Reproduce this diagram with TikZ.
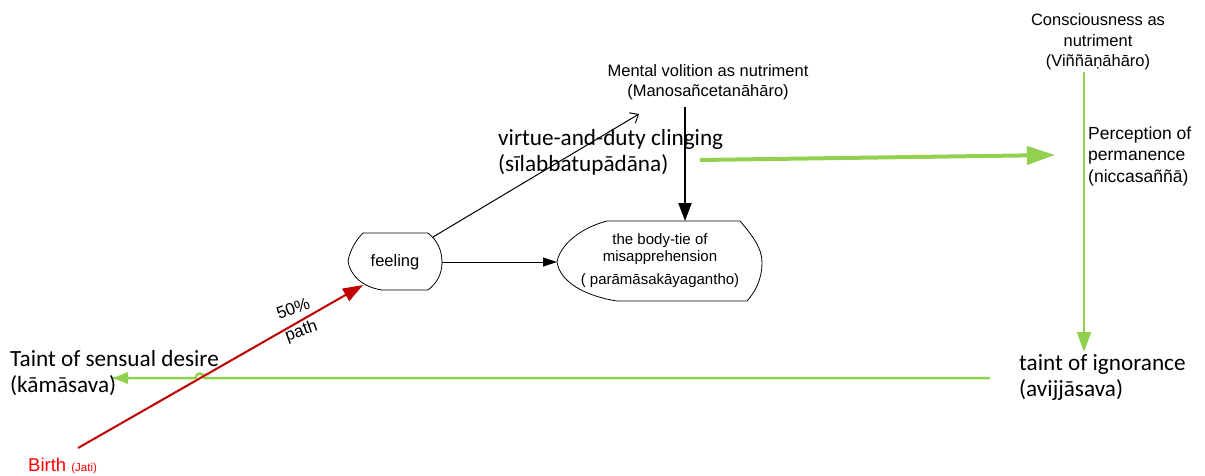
\documentclass[tikz,border=0pt]{standalone}
\usepackage{fontspec}
\setmainfont{Liberation Sans}
\newfontfamily\calfont{Carlito}
\usetikzlibrary{arrows.meta}
\definecolor{lgreen}{HTML}{92D050}
\definecolor{dred}{HTML}{C00000}
\definecolor{bred}{HTML}{FF0000}
\begin{document}
\begin{tikzpicture}[x=1pt,y=-1pt,
  ar/.style={font=\fontsize{16.5}{20}\selectfont, inner sep=0pt},
  arsm/.style={font=\fontsize{15}{17}\selectfont, inner sep=0pt},
  cal/.style={font=\calfont\fontsize{23.2}{26}\selectfont, inner sep=0pt},
  shapeline/.style={line width=0.8pt},
  thinarrow/.style={line width=1pt, -{Triangle[length=14pt,width=9pt]}},
  openarrow/.style={line width=1pt, -{Straight Barb[length=7pt,width=12pt]}},
  thickarrow/.style={line width=2pt, -{Triangle[length=18pt,width=13pt]}},
  greenbig/.style={lgreen, line width=4pt, -{Triangle[length=28pt,width=18pt]}},
  greenv/.style={lgreen, line width=2pt, -{Triangle[length=20pt,width=14pt]}},
  greenh/.style={lgreen, line width=2.5pt},
  redarrow/.style={dred, line width=2pt, -{Triangle[length=20pt,width=14pt]}}]
\useasboundingbox (0,0) rectangle (1205,475);

% shapes
\draw[shapeline] (363,233) -- (428,233) .. controls (437,240) and (442,250) .. (442,262)
  .. controls (442,274) and (437,283) .. (428,290) -- (382,290)
  .. controls (362,287) and (350,275) .. (348,261)
  .. controls (350,250) and (356,240) .. (363,233) -- cycle;
\draw[shapeline] (607,221) -- (740,221) .. controls (752,235) and (762,248) .. (762,262)
  .. controls (762,280) and (755,292) .. (747,301) -- (617,301)
  .. controls (585,296) and (560,282) .. (557,262)
  .. controls (560,245) and (580,228) .. (607,221) -- cycle;

% texts
\node[ar] (feeling) at (395,262) {feeling};
\node[arsm, align=center] (bodytie) at (660,261) {the body-tie of\\misapprehension\\[6pt]( parāmāsakāyagantho)};
\node[ar, align=center] (volition) at (708,82) {Mental volition as nutriment\\(Manosañcetanāhāro)};
\node[cal, anchor=west, align=left] (virtue) at (498,152) {virtue-and-duty clinging\\(sīlabbatupādāna)};
\node[ar, align=center, font=\fontsize{16.5}{20.5}\selectfont] (conscious) at (1098,42) {Consciousness as\\nutriment\\(Viññāṇāhāro)};
\node[ar, anchor=west, align=left, font=\fontsize{17.5}{21.5}\selectfont] (perception) at (1088,156) {Perception of\\permanence\\(niccasaññā)};
\node[cal, anchor=west, align=left] (ignorance) at (1019,377) {taint of ignorance\\(avijjāsava)};
\node[cal, anchor=west, align=left] (sensual) at (10,373) {Taint of sensual desire\\(kāmāsava)};
\node[ar, align=center, rotate=20, font=\fontsize{17}{23}\selectfont] (half) at (297.5,321) {50\%\\path};
\node[anchor=base west, inner sep=0pt, text=bred, font=\fontsize{18.5}{20}\selectfont] (birth) at (28,471) {Birth {\fontsize{11.5}{13}\selectfont (Jati)}};

% anchor points on shapes and free ends
\coordinate (feelR) at (442,262);
\coordinate (bodyL) at (557,262);
\coordinate (feelTR) at (433,237);
\coordinate (volTip) at (639,114);
\coordinate (volDown) at (685,107);
\coordinate (bodyTop) at (685,221);
\coordinate (virtueEnd) at (700,160);
\coordinate (percTip) at (1055,155);
\coordinate (consDown) at (1084,72);
\coordinate (ignTip) at (1084,352);
\coordinate (ignStart) at (990,378);
\coordinate (hopR) at (204.5,378);
\coordinate (sensTip) at (113,378);
\coordinate (birthStart) at (78,448);
\coordinate (feelIn) at (363,285);

% connectors
\draw[thinarrow] (feelR) -- (bodyL);
\draw[openarrow] (feelTR) -- (volTip);
\draw[thickarrow] (volDown) -- (bodyTop);
\draw[greenbig] (virtueEnd) -- (percTip);
\draw[greenv] (consDown) -- (ignTip);
\draw[greenh] (ignStart) -- (hopR) arc[start angle=0, end angle=-180, radius=4.5] -- (sensTip);
\fill[lgreen] (sensTip) -- ++(15,-6) -- ++(0,12) -- cycle;
\draw[redarrow] (birthStart) -- (feelIn);
\end{tikzpicture}
\end{document}
